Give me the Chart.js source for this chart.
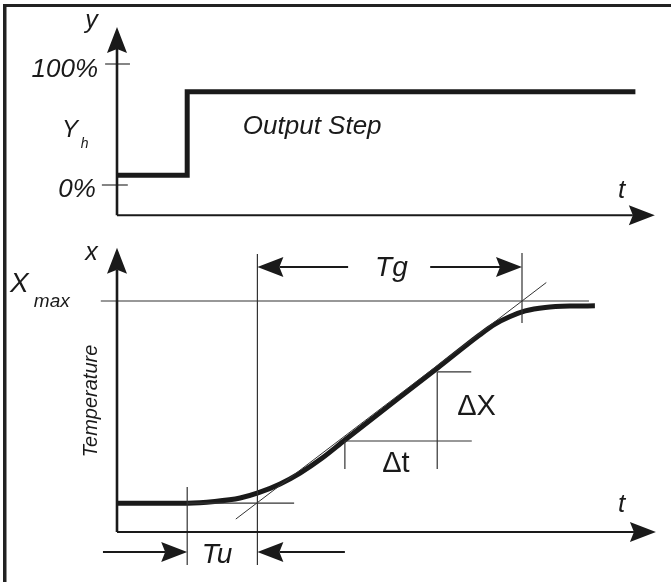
<!DOCTYPE html>
<html>
<head>
<meta charset="utf-8">
<script src="https://cdn.jsdelivr.net/npm/chart.js@4.4.1/dist/chart.umd.min.js"></script>
<style>
  html, body { margin: 0; padding: 0; background: #fff; }
  #wrap { position: relative; width: 671px; height: 582px; }
</style>
</head>
<body>
<div id="wrap"><canvas id="chart" width="671" height="582"></canvas></div>
<script>
// --- data (time in arbitrary units, top panel in % output, bottom panel in % of Xmax)
const stepTimes = [0, 1.3, 1.3, 9.6];
const stepValues = [8, 8, 77, 77];

const respTimes = [0, 1.31, 1.81, 2.28, 2.61, 3.02, 3.39, 3.8, 4.22, 5.93, 6.72, 7.0, 7.28, 7.56, 7.93, 8.39, 8.85];
const respValues = [12.5, 12.5, 13.2, 14.7, 16.9, 20.8, 25.5, 32, 39.8, 70.9, 85.4, 90.0, 93.3, 95.7, 97.2, 97.8, 97.9];

const yTicks = [0, 100];
const yTickLabels = ["0%", "100%"];

const baseLevel = 12.5;     // start temperature
const xMaxLevel = 100;      // Xmax
const tuStart = 1.3;        // step instant
const tuEnd = 2.6;          // tangent meets start level
const tgEnd = 7.5;          // tangent meets Xmax
const tangentTimes = [2.2, 7.95];
const tangentValues = [5.6, 108];
const dtTimes = [4.22, 5.93];
const dxValues = [39.4, 69.3];

// --- layout: where the axes sit on the canvas
const W = 671, H = 582;
const tOrigin = 117, pxPerT = 54;
const topOrigin = 185, pxPerTop = 1.21;
const botOrigin = 532, pxPerBot = 2.31;

const INK = "#1a1a1a";
const THIN = "#333";

function seg(xs, ys, axis, width, color, extra) {
  return Object.assign({
    data: xs.map((x, i) => ({ x: x, y: ys[i] })),
    yAxisID: axis,
    borderColor: color || THIN,
    borderWidth: width || 1.2,
    pointRadius: 0,
    tension: 0,
    fill: false
  }, extra || {});
}

const datasets = [
  // top panel
  seg(stepTimes, stepValues, "yTop", 5, INK, { borderJoinStyle: "miter", borderCapStyle: "butt" }),
  seg([-0.22, 0.24], [yTicks[1], yTicks[1]], "yTop", 1.2),
  seg([-0.28, 0.2], [yTicks[0], yTicks[0]], "yTop", 1.2),
  // bottom panel guide lines
  seg([-0.3, 8.74], [xMaxLevel, xMaxLevel], "yBot"),
  seg([tuEnd, tuEnd], [120.3, -14.3], "yBot"),
  seg([tuStart, tuStart], [19.5, -14.3], "yBot"),
  seg([tgEnd, tgEnd], [120.8, 90.5], "yBot"),
  seg([tuStart, 3.28], [baseLevel, baseLevel], "yBot"),
  seg(tangentTimes, tangentValues, "yBot", 1),
  seg([dtTimes[0], 6.57], [dxValues[0], dxValues[0]], "yBot"),
  seg([dtTimes[0], dtTimes[0]], [dxValues[0], 27.3], "yBot"),
  seg([dtTimes[1], dtTimes[1]], [dxValues[1], 27.3], "yBot"),
  seg([dtTimes[1], 6.56], [dxValues[1], dxValues[1]], "yBot"),
  // temperature response
  seg(respTimes, respValues, "yBot", 5, INK, { cubicInterpolationMode: "monotone", borderCapStyle: "butt" })
];

// arrows: [axis, x1, y1, x2 (tip), y2 (tip), width]
const arrows = [
  ["yTop", 0, -25, 0, 130.6, 2.6],
  ["yTop", 0, -25, 9.96, -25, 2.2],
  ["yBot", 0, 0, 0, 123, 2.6],
  ["yBot", 0, 0, 9.98, 0, 2.2],
  ["yBot", 4.28, 114.7, tuEnd, 114.7, 2],
  ["yBot", 5.8, 114.7, tgEnd, 114.7, 2],
  ["yBot", -0.26, -8.7, tuStart, -8.7, 2],
  ["yBot", 4.22, -8.7, tuEnd, -8.7, 2]
];

// labels: [axis, t, value, text, font, align, rotate]
const IT = "italic ";
const FF = "'Liberation Sans', Arial, sans-serif";
const labels = [
  ["yTop", -0.59, 129.8, "y", IT + "25px " + FF, "left"],
  ["yTop", -0.35, 89.3, yTickLabels[1], IT + "26px " + FF, "right"],
  ["yTop", -1.02, 39.7, "Y", IT + "24px " + FF, "left"],
  ["yTop", -0.67, 30.6, "h", IT + "14px " + FF, "left"],
  ["yTop", -0.39, -9.9, yTickLabels[0], IT + "26px " + FF, "right"],
  ["yTop", 2.33, 42.1, "Output Step", IT + "26px " + FF, "left"],
  ["yTop", 9.28, -10.7, "t", IT + "26px " + FF, "left"],
  ["yBot", -0.59, 117.7, "x", IT + "25px " + FF, "left"],
  ["yBot", -1.98, 103.9, "X", IT + "28px " + FF, "left"],
  ["yBot", -1.54, 97.4, "max", IT + "19px " + FF, "left"],
  ["yBot", -0.48, 56.7, "Temperature", IT + "20px " + FF, "center", true],
  ["yBot", 4.78, 110.8, "Tg", IT + "28px " + FF, "left"],
  ["yBot", 6.3, 50.6, "\u0394X", "29px " + FF, "left"],
  ["yBot", 4.91, 26, "\u0394t", "29px " + FF, "left"],
  ["yBot", 9.28, 8.66, "t", IT + "26px " + FF, "left"],
  ["yBot", 1.57, -13.4, "Tu", IT + "28px " + FF, "left"]
];

function drawArrow(ctx, x1, y1, x2, y2, w) {
  const a = Math.atan2(y2 - y1, x2 - x1);
  const len = 26, half = 10, notch = 4;
  const cos = Math.cos(a), sin = Math.sin(a);
  ctx.save();
  ctx.strokeStyle = INK;
  ctx.fillStyle = INK;
  ctx.lineWidth = w;
  ctx.beginPath();
  ctx.moveTo(x1, y1);
  ctx.lineTo(x2 - cos * (len - notch), y2 - sin * (len - notch));
  ctx.stroke();
  ctx.beginPath();
  ctx.moveTo(x2, y2);
  ctx.lineTo(x2 - cos * len - sin * half, y2 - sin * len + cos * half);
  ctx.lineTo(x2 - cos * (len - notch), y2 - sin * (len - notch));
  ctx.lineTo(x2 - cos * len + sin * half, y2 - sin * len - cos * half);
  ctx.closePath();
  ctx.fill();
  ctx.restore();
}

const overlay = {
  id: "overlay",
  beforeDraw(chart) {
    const ctx = chart.ctx;
    ctx.save();
    ctx.fillStyle = "#fff";
    ctx.fillRect(0, 0, W, H);
    ctx.fillStyle = "#222";
    ctx.fillRect(3, 4, 3.5, H - 4);
    ctx.fillRect(3, 4, W - 3, 3);
    ctx.restore();
  },
  afterDatasetsDraw(chart) {
    const ctx = chart.ctx, sx = chart.scales.x;
    arrows.forEach(a => {
      const sy = chart.scales[a[0]];
      drawArrow(ctx, sx.getPixelForValue(a[1]), sy.getPixelForValue(a[2]),
        sx.getPixelForValue(a[3]), sy.getPixelForValue(a[4]), a[5]);
    });
    labels.forEach(l => {
      const sy = chart.scales[l[0]];
      const px = sx.getPixelForValue(l[1]), py = sy.getPixelForValue(l[2]);
      ctx.save();
      ctx.fillStyle = INK;
      ctx.font = l[4];
      ctx.textAlign = l[5];
      if (l[6]) {
        ctx.translate(px, py);
        ctx.rotate(-Math.PI / 2);
        ctx.textBaseline = "middle";
        ctx.fillText(l[3], 0, 0);
      } else {
        ctx.textBaseline = "alphabetic";
        ctx.fillText(l[3], px, py);
      }
      ctx.restore();
    });
  }
};

new Chart(document.getElementById("chart"), {
  type: "line",
  data: { datasets: datasets },
  options: {
    responsive: false,
    animation: false,
    devicePixelRatio: 1,
    layout: { padding: 0 },
    plugins: { legend: { display: false }, tooltip: { enabled: false } },
    scales: {
      x: { type: "linear", display: false, min: -tOrigin / pxPerT, max: (W - tOrigin) / pxPerT },
      yTop: { type: "linear", display: false, min: -(H - topOrigin) / pxPerTop, max: topOrigin / pxPerTop },
      yBot: { type: "linear", display: false, min: -(H - botOrigin) / pxPerBot, max: botOrigin / pxPerBot }
    }
  },
  plugins: [overlay]
});
</script>
</body>
</html>
